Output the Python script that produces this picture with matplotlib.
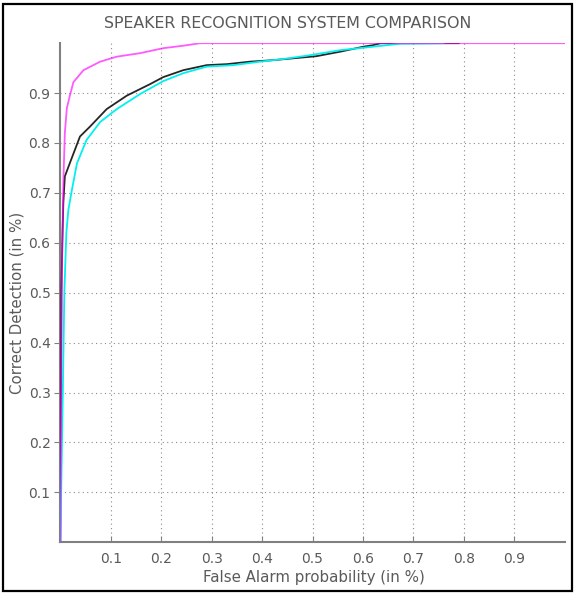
#!/usr/bin/env python3
"""Speaker recognition ROC comparison (three systems)"""

import matplotlib
matplotlib.use("Agg")
import matplotlib.pyplot as plt
from matplotlib.patches import Rectangle

# false alarm / correct detection pairs
magenta_x = [0, 0.002, 0.004, 0.006, 0.009, 0.013, 0.019, 0.026, 0.046, 0.079,
             0.112, 0.158, 0.204, 0.244, 0.277, 1.0]
magenta_y = [0, 0.35, 0.6, 0.72, 0.82, 0.87, 0.895, 0.922, 0.946, 0.963,
             0.973, 0.980, 0.990, 0.995, 1.0, 1.0]

black_x = [0, 0.002, 0.004, 0.006, 0.009, 0.019, 0.039, 0.059, 0.092, 0.132,
           0.178, 0.204, 0.244, 0.29, 0.33, 0.376, 0.422, 0.465, 0.508, 0.555,
           0.601, 0.62, 0.635, 0.79]
black_y = [0, 0.5, 0.6, 0.68, 0.733, 0.76, 0.813, 0.833, 0.868, 0.895,
           0.918, 0.932, 0.946, 0.956, 0.958, 0.963, 0.966, 0.970, 0.974, 0.983,
           0.993, 0.996, 1.0, 1.0]

cyan_x = [0, 0.005, 0.008, 0.012, 0.016, 0.023, 0.033, 0.052, 0.079, 0.112,
          0.158, 0.204, 0.244, 0.29, 0.343, 0.396, 0.44, 0.489, 0.555, 0.62,
          0.674, 0.76]
cyan_y = [0, 0.3, 0.5, 0.62, 0.666, 0.706, 0.759, 0.806, 0.842, 0.868,
          0.898, 0.924, 0.940, 0.953, 0.956, 0.963, 0.968, 0.975, 0.986, 0.993,
          0.999, 1.0]

ticks = [0.1, 0.2, 0.3, 0.4, 0.5, 0.6, 0.7, 0.8, 0.9]
tick_labels = ["0.1", "0.2", "0.3", "0.4", "0.5", "0.6", "0.7", "0.8", "0.9"]

plt.rcParams['font.family'] = ['DejaVu Sans']
grey = '#5a5a5a'

fig = plt.figure(figsize=(5.75, 5.95), dpi=100)
ax = fig.add_axes([60.3 / 575, (595 - 542.2) / 595, 504.4 / 575, 499 / 595])

ax.plot(black_x, black_y, color='#262626', lw=1.3, zorder=3)
ax.plot(cyan_x, cyan_y, color='#00f0f0', lw=1.3, zorder=4)
# magenta drawn last, half see-through so the overlaps blend like the original
ax.plot(magenta_x, magenta_y, color='#ff00ff', lw=1.3, alpha=0.65, zorder=5)

ax.set_xlim(0, 1)
ax.set_ylim(0, 1)
ax.set_xticks(ticks)
ax.set_xticklabels(tick_labels)
ax.set_yticks(ticks)
ax.set_yticklabels(tick_labels)

ax.grid(True, color='#8a8a8a', lw=0.8, linestyle=(0, (1, 3)))
for side in ['top', 'right']:
    ax.spines[side].set_visible(False)
for side in ['left', 'bottom']:
    ax.spines[side].set_color('#808080')
    ax.spines[side].set_linewidth(1.5)

ax.tick_params(axis='x', direction='in', length=4, color='#808080',
               labelcolor=grey, labelsize=10, pad=7)
ax.tick_params(axis='y', direction='out', length=4, color='#808080',
               labelcolor=grey, labelsize=10, pad=3)

ax.set_xlabel("False Alarm probability (in %)", color=grey, fontsize=10.8)
ax.xaxis.set_label_coords(0.503, -0.056)
ax.set_ylabel("Correct Detection (in %)", color=grey, fontsize=10.8)
ax.yaxis.set_label_coords(-0.07, 0.48)

fig.text(0.5, (595 - 24) / 595, "SPEAKER RECOGNITION SYSTEM COMPARISON",
         ha='center', va='center', color=grey, fontsize=11.4)

# outer frame round the whole picture
fig.patches.append(Rectangle((3 / 575, 4 / 595), 569 / 575, 587 / 595,
                             transform=fig.transFigure, fill=False,
                             edgecolor='black', lw=1.6))

fig.savefig("out.png", dpi=100)
